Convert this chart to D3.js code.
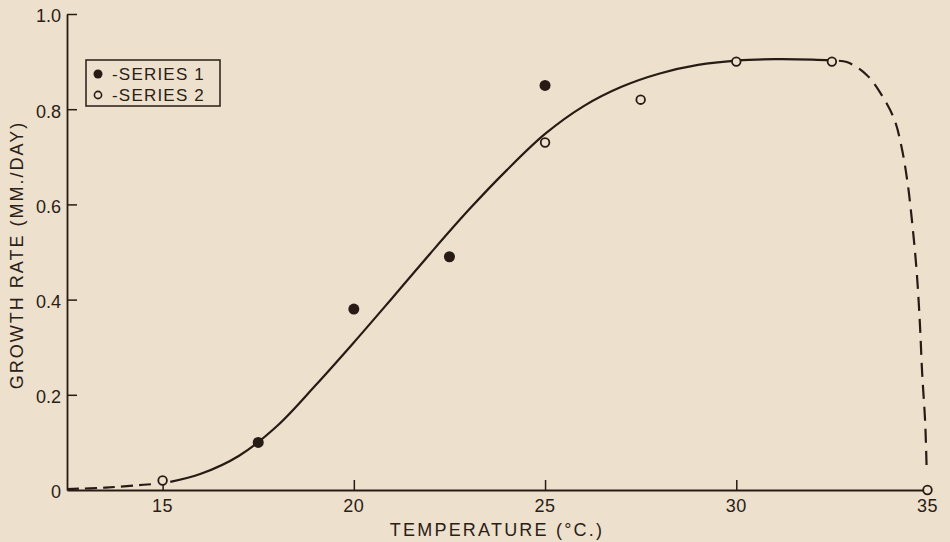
<!DOCTYPE html>
<html><head><meta charset="utf-8">
<script src="https://cdn.jsdelivr.net/npm/d3@7"></script>
<style>
html,body{margin:0;padding:0;background:#ede0cc;}
svg{display:block;}
text{font-family:"Liberation Sans","DejaVu Sans",sans-serif;fill:#2a2018;}
</style></head><body>
<svg id="c" width="950" height="542"></svg>
<script>
// ---- data ----
const xTicks = [15, 20, 25, 30, 35];
const yTicks = [0, 0.2, 0.4, 0.6, 0.8, 1.0];
const yTickLabels = ["0", "0.2", "0.4", "0.6", "0.8", "1.0"];
const series1Temp = [17.5, 20, 22.5, 25];
const series1Rate = [0.10, 0.38, 0.49, 0.85];
const series2Temp = [15, 25, 27.5, 30, 32.5, 35];
const series2Rate = [0.02, 0.73, 0.82, 0.90, 0.90, 0];
// fitted curve (solid part)
const curveTemp = [15.2, 16, 17, 18, 19, 20, 21, 22, 23, 24, 25, 26, 27, 28, 29, 30, 31, 32, 32.5];
const curveRate = [0.017, 0.034, 0.072, 0.135, 0.22, 0.31, 0.403, 0.497, 0.588, 0.672, 0.748, 0.806, 0.847, 0.875, 0.893, 0.902, 0.905, 0.904, 0.902];
// extrapolated (dashed) parts
const lowTemp = [12.5, 13.5, 14.5, 14.85];
const lowRate = [0.002, 0.005, 0.011, 0.013];
const highTemp = [32.5, 32.89, 33.41, 33.83, 34.14, 34.32, 34.48, 34.61, 34.72, 34.80, 34.86, 34.94, 34.98];
const highRate = [0.902, 0.899, 0.872, 0.826, 0.777, 0.721, 0.645, 0.553, 0.456, 0.351, 0.246, 0.141, 0.036];

const ink = "#261c15";
const svg = d3.select("#c");
const x = d3.scaleLinear().domain([12.5, 35]).range([67, 927.5]);
const y = d3.scaleLinear().domain([0, 1.0]).range([490, 14]);

// axes
const xAxis = svg.append("g").attr("transform", `translate(0,${y(0)})`)
  .call(d3.axisTop(x).tickValues(xTicks).tickSize(10).tickSizeOuter(0).tickFormat(""));
xAxis.select(".domain").attr("stroke", ink).attr("stroke-width", 1.8);
xAxis.selectAll(".tick line").attr("stroke", ink).attr("stroke-width", 1.5)
  .filter(d => d === 35).remove();
svg.append("g").selectAll("text").data(xTicks).join("text")
  .attr("x", d => x(d)).attr("y", y(0) + 22).attr("text-anchor", "middle")
  .attr("font-size", 18).attr("letter-spacing", 0.5).text(d => d);

const yAxis = svg.append("g").attr("transform", `translate(${x(12.5)},0)`)
  .call(d3.axisRight(y).tickValues(yTicks.slice(1)).tickSize(10).tickSizeOuter(0).tickFormat(""));
yAxis.select(".domain").attr("stroke", ink).attr("stroke-width", 1.8);
yAxis.selectAll(".tick line").attr("stroke", ink).attr("stroke-width", 1.5);
svg.append("g").selectAll("text").data(yTicks).join("text")
  .attr("x", 61).attr("y", d => y(d) + 2).attr("dy", "0.35em").attr("text-anchor", "end")
  .attr("font-size", 18).text((d, i) => yTickLabels[i]);

// titles
svg.append("text").attr("x", 497).attr("y", 536).attr("text-anchor", "middle")
  .attr("font-size", 18).attr("letter-spacing", 2.2).text("TEMPERATURE  (°C.)");
svg.append("text").attr("transform", "translate(23,255) rotate(-90)").attr("text-anchor", "middle")
  .attr("font-size", 18).attr("letter-spacing", 2).text("GROWTH RATE  (MM./DAY)");

// curves
const zip = (a, b) => a.map((v, i) => [v, b[i]]);
const line = d3.line().x(d => x(d[0])).y(d => y(d[1])).curve(d3.curveCatmullRom.alpha(0.5));
svg.append("path").attr("d", line(zip(curveTemp, curveRate)))
  .attr("fill", "none").attr("stroke", ink).attr("stroke-width", 2.2);
svg.append("path").attr("d", line(zip(lowTemp, lowRate)))
  .attr("fill", "none").attr("stroke", ink).attr("stroke-width", 2.2).attr("stroke-dasharray", "12,6");
svg.append("path").attr("d", line(zip(highTemp, highRate)))
  .attr("fill", "none").attr("stroke", ink).attr("stroke-width", 2.2).attr("stroke-dasharray", "14,8").attr("stroke-dashoffset", -7);

// points
svg.append("g").selectAll("circle").data(zip(series2Temp, series2Rate)).join("circle")
  .attr("cx", d => x(d[0])).attr("cy", d => y(d[1])).attr("r", 4.3)
  .attr("fill", "#ede0cc").attr("stroke", ink).attr("stroke-width", 1.8);
svg.append("g").selectAll("circle").data(zip(series1Temp, series1Rate)).join("circle")
  .attr("cx", d => x(d[0])).attr("cy", d => y(d[1])).attr("r", 5.5)
  .attr("fill", ink);

// legend
const lg = svg.append("g");
lg.append("rect").attr("x", 86).attr("y", 60).attr("width", 134).attr("height", 46)
  .attr("fill", "none").attr("stroke", ink).attr("stroke-width", 1.5);
lg.append("circle").attr("cx", 98).attr("cy", 74).attr("r", 4.5).attr("fill", ink);
lg.append("circle").attr("cx", 98).attr("cy", 95).attr("r", 3.6)
  .attr("fill", "none").attr("stroke", ink).attr("stroke-width", 1.6);
lg.append("text").attr("x", 112).attr("y", 80).attr("font-size", 17).attr("letter-spacing", 1.2).text("-SERIES  1");
lg.append("text").attr("x", 112).attr("y", 101).attr("font-size", 17).attr("letter-spacing", 1.2).text("-SERIES  2");
</script>
</body></html>
